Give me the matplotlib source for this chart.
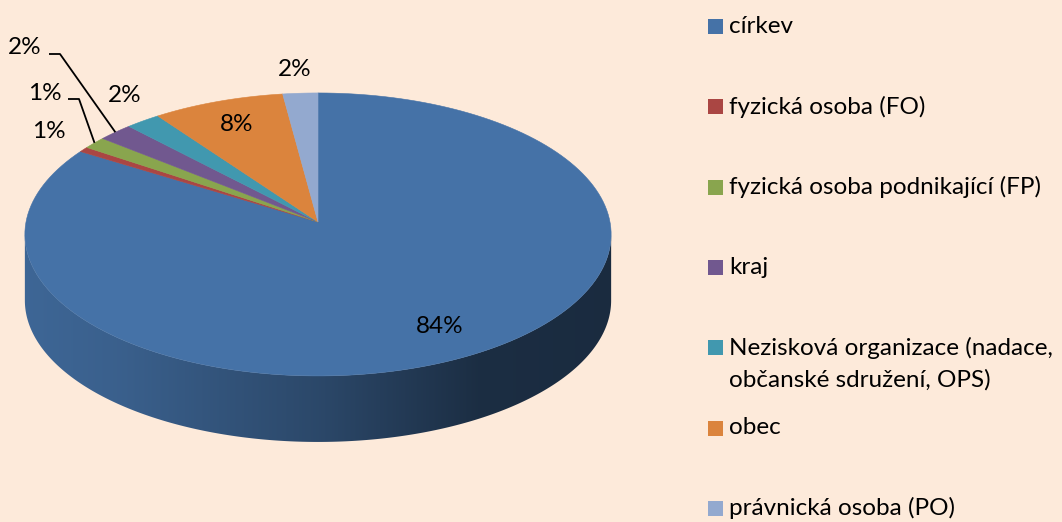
import numpy as np
import matplotlib.pyplot as plt
from matplotlib.patches import Polygon, Rectangle
from matplotlib.colors import to_rgb

# data (percent shares)
labels = ['církev', 'fyzická osoba (FO)', 'fyzická osoba podnikající (FP)', 'kraj',
          'Nezisková organizace (nadace,\nobčanské sdružení, OPS)', 'obec',
          'právnická osoba (PO)']
shares = [83.8, 0.6, 1.4, 2.1, 2.1, 7.9, 2.1]
colors = ['#4572A7', '#AA4643', '#89A54E', '#71588F', '#4198AF', '#DB843D', '#93A9CF']

BG = '#FDEADA'
FONT = 'Lato'
FS = 17.5

# pie geometry in pixels (3d look with a little perspective)
CX, CY, RX, RY, PERSP, DEPTH = 318, 222, 292, 140.4, 0.088, 66


def proj(theta, r=1.0, drop=0.0):
    u = r * np.sin(theta)
    v = r * np.cos(theta)
    d = 1 + PERSP * v
    return CX + RX * u / d, CY - RY * v / d + drop


def shade(x):
    # side wall gets darker from left to right
    return np.interp(x, [20, 120, 320, 480, 615], [0.90, 0.84, 0.63, 0.40, 0.38])


fig = plt.figure(figsize=(10.62, 5.22), dpi=100, facecolor=BG)
ax = fig.add_axes([0, 0, 1, 1])

total = sum(shares)
cum = np.concatenate([[0], np.cumsum(shares)]) / total * 2 * np.pi

# side wall: gradient image clipped to each slice's visible band
# (front half between the two horizontal extremes of the rim)
lo = np.arccos(-PERSP)
hi = 2 * np.pi - lo
gx = np.arange(0, 640)
for i in range(len(shares)):
    a, b = max(cum[i], lo), min(cum[i + 1], hi)
    if b <= a:
        continue
    th = np.linspace(a, b, 400)
    xs, ys = proj(th)
    band = list(zip(xs, ys)) + list(zip(xs[::-1], ys[::-1] + DEPTH))
    clip = Polygon(band, closed=True, facecolor='none', edgecolor='none')
    ax.add_patch(clip)
    base = np.array(to_rgb(colors[i]))
    grad = np.clip(base[None, None, :] * shade(gx)[None, :, None], 0, 1)
    im = ax.imshow(grad, extent=(0, 640, 520, 0), aspect='auto', zorder=1,
                   interpolation='bilinear')
    im.set_clip_path(clip)

ax.set_xlim(0, 1062)
ax.set_ylim(522, 0)
ax.axis('off')

# top face
for i in range(len(shares)):
    th = np.linspace(cum[i], cum[i + 1], max(4, int(200 * shares[i] / total) + 4))
    xs, ys = proj(th)
    pts = [(CX, CY)] + list(zip(xs, ys))
    ax.add_patch(Polygon(pts, closed=True, facecolor=colors[i], edgecolor=colors[i],
                         lw=0.4, zorder=2))

# data labels
pct = [f'{v / total * 100:.0f}%' for v in shares]
inside = [0, 5]
outside_pos = {1: (49, 131), 2: (45, 94), 3: (25, 47), 4: (125, 96), 6: (295, 70)}
leaders = {2: [(68, 99), (79, 99)], 3: [(49, 54), (60, 54)]}
for i in range(len(shares)):
    mid = 0.5 * (cum[i] + cum[i + 1])
    if i in inside:
        x, y = proj(mid, 0.8)
    else:
        x, y = outside_pos[i]
    ax.text(x, y, pct[i], ha='center', va='center', fontsize=FS, family=FONT,
            color='black', zorder=5)
    if i in leaders:
        rx, ry = proj(mid)
        pts = leaders[i] + [(rx, ry)]
        ax.plot([p[0] for p in pts], [p[1] for p in pts], color='black', lw=1.3,
                zorder=4, solid_capstyle='butt')

# legend
LX, LY, STEP, LINE = 708, 26.5, 80.3, 32
for i, lab in enumerate(labels):
    y = LY + i * STEP
    ax.add_patch(Rectangle((LX, y - 7.5), 15, 15, facecolor=colors[i], edgecolor='none'))
    for j, part in enumerate(lab.split('\n')):
        ax.text(LX + 21, y + j * LINE, part, ha='left', va='center', fontsize=FS,
                family=FONT, color='black')

fig.savefig('out.png', dpi=100, facecolor=BG)
